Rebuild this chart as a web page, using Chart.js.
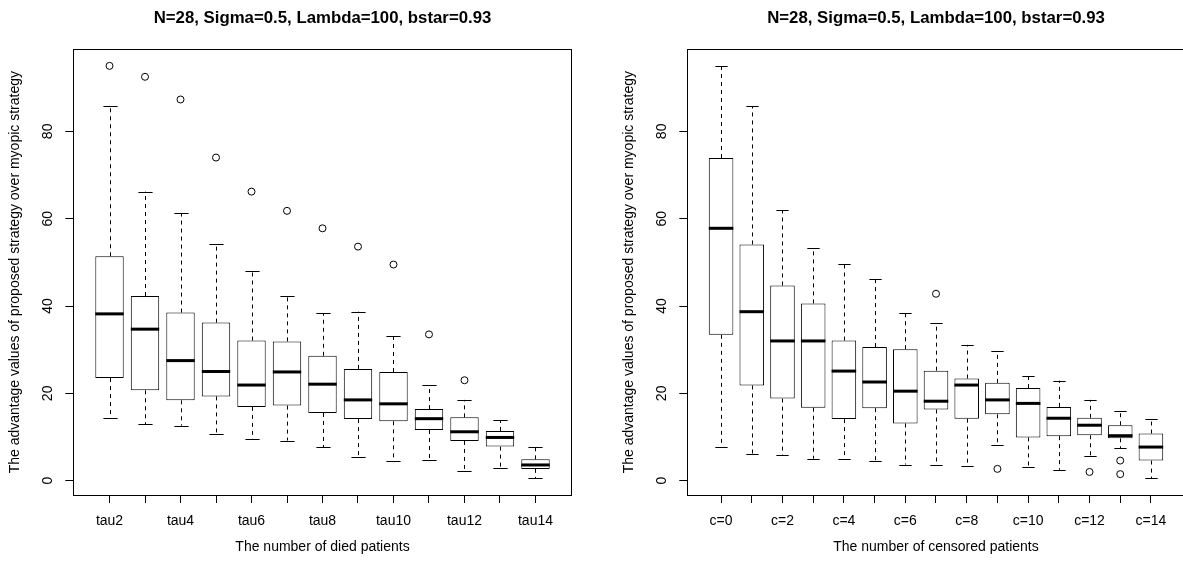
<!DOCTYPE html>
<html>
<head>
<meta charset="utf-8">
<script src="https://cdn.jsdelivr.net/npm/chart.js@4.4.1/dist/chart.umd.min.js"></script>
<style>
  body { margin: 0; background: #fff; }
  #wrap { position: relative; width: 1183px; height: 570px; overflow: hidden; background: #fff; }
  canvas { position: absolute; top: 0; }
  #leftChart { left: 0; }
  #rightChart { left: 592px; }
</style>
</head>
<body>
<div id="wrap">
  <canvas id="leftChart" width="592" height="570"></canvas>
  <canvas id="rightChart" width="600" height="570"></canvas>
</div>
<script>
// shared text
const plotTitle = 'N=28, Sigma=0.5, Lambda=100, bstar=0.93';
const yTitle = 'The advantage values of proposed strategy over myopic strategy';
const yTickValues = [0, 20, 40, 60, 80];

// left panel: died patients
const tauLabels = ['tau2', 'tau3', 'tau4', 'tau5', 'tau6', 'tau7', 'tau8', 'tau9', 'tau10', 'tau11', 'tau12', 'tau13', 'tau14'];
const tauLow  = [14.3, 12.9, 12.6, 10.8, 9.5, 9.2, 7.7, 5.4, 4.6, 4.7, 2.3, 2.8, 0.5];
const tauQ1   = [23.5, 20.7, 18.4, 19.3, 16.9, 17.2, 15.5, 14.1, 13.6, 11.6, 9.1, 7.8, 2.7];
const tauMed  = [38.2, 34.7, 27.5, 25.0, 21.9, 24.9, 22.1, 18.5, 17.6, 14.2, 11.2, 9.9, 3.6];
const tauQ3   = [51.4, 42.3, 38.5, 36.2, 32.1, 31.9, 28.6, 25.6, 24.9, 16.4, 14.5, 11.4, 4.9];
const tauHigh = [85.8, 66.2, 61.3, 54.1, 48.1, 42.4, 38.3, 38.7, 33.1, 21.8, 18.5, 13.9, 7.8];
const tauOut  = [[95.0], [92.5], [87.3], [74.0], [66.2], [61.8], [57.8], [53.6], [49.5], [33.5], [23.0], [], []];

// right panel: censored patients
const cLabels = ['c=0', 'c=1', 'c=2', 'c=3', 'c=4', 'c=5', 'c=6', 'c=7', 'c=8', 'c=9', 'c=10', 'c=11', 'c=12', 'c=13', 'c=14'];
const cLow  = [7.8, 6.2, 5.8, 5.0, 4.9, 4.6, 3.7, 3.6, 3.3, 8.2, 3.1, 2.5, 5.6, 7.4, 0.5];
const cQ1   = [33.4, 21.8, 18.8, 16.7, 14.1, 16.6, 13.1, 16.3, 14.2, 15.2, 9.9, 10.2, 10.4, 9.7, 4.6];
const cMed  = [57.8, 38.7, 32.0, 32.0, 25.1, 22.6, 20.5, 18.2, 21.9, 18.5, 17.7, 14.3, 12.7, 10.3, 7.7];
const cQ3   = [73.9, 54.1, 44.7, 40.6, 32.1, 30.6, 30.1, 25.2, 23.4, 22.4, 21.2, 16.9, 14.4, 12.7, 10.8];
const cHigh = [95.0, 85.8, 62.0, 53.2, 49.7, 46.2, 38.3, 36.0, 31.1, 29.7, 24.0, 22.9, 18.5, 16.0, 14.2];
const cOut  = [[], [], [], [], [], [], [], [42.8], [], [2.7], [], [], [2.0], [4.6, 1.5], []];

Chart.defaults.font.family = "'Liberation Sans', Arial, sans-serif";
Chart.defaults.color = '#000';

// whiskers, staples, medians, frame and rotated y labels (R boxplot look)
const boxplotParts = {
  id: 'boxplotParts',
  beforeDatasetsDraw(chart) {
    const st = chart.data.datasets[0].boxStats;
    const y = chart.scales.y;
    const boxes = chart.getDatasetMeta(0).data;
    const ctx = chart.ctx;
    ctx.save();
    ctx.strokeStyle = '#000';
    ctx.lineWidth = 1;
    st.med.forEach((m, i) => {
      const px = Math.round(boxes[i].x) + 0.5;
      const cap = boxes[i].width / 4;
      ctx.setLineDash([4, 4]);
      ctx.beginPath();
      ctx.moveTo(px, y.getPixelForValue(st.q3[i]));
      ctx.lineTo(px, y.getPixelForValue(st.hi[i]));
      ctx.moveTo(px, y.getPixelForValue(st.q1[i]));
      ctx.lineTo(px, y.getPixelForValue(st.lo[i]));
      ctx.stroke();
      ctx.setLineDash([]);
      ctx.beginPath();
      [st.hi[i], st.lo[i]].forEach(v => {
        const py = Math.round(y.getPixelForValue(v)) + 0.5;
        ctx.moveTo(px - cap, py);
        ctx.lineTo(px + cap, py);
      });
      ctx.stroke();
    });
    ctx.restore();
  },
  afterDatasetsDraw(chart) {
    const st = chart.data.datasets[0].boxStats;
    const y = chart.scales.y;
    const boxes = chart.getDatasetMeta(0).data;
    const ctx = chart.ctx;
    ctx.save();
    ctx.strokeStyle = '#000';
    ctx.lineWidth = 3;
    st.med.forEach((m, i) => {
      const py = y.getPixelForValue(m);
      ctx.beginPath();
      ctx.moveTo(boxes[i].x - boxes[i].width / 2, py);
      ctx.lineTo(boxes[i].x + boxes[i].width / 2, py);
      ctx.stroke();
    });
    ctx.restore();
  },
  afterDraw(chart) {
    const ctx = chart.ctx;
    const ca = chart.chartArea;
    const y = chart.scales.y;
    ctx.save();
    ctx.strokeStyle = '#000';
    ctx.lineWidth = 1;
    ctx.strokeRect(Math.round(ca.left) + 0.5, Math.round(ca.top) + 0.5,
      Math.round(ca.right - ca.left), Math.round(ca.bottom - ca.top));
    // R draws y tick labels parallel to the axis
    ctx.fillStyle = '#000';
    ctx.font = "14px 'Liberation Sans', Arial, sans-serif";
    ctx.textAlign = 'center';
    ctx.textBaseline = 'middle';
    y.ticks.forEach(t => {
      ctx.save();
      ctx.translate(ca.left - 25, y.getPixelForValue(t.value));
      ctx.rotate(-Math.PI / 2);
      ctx.fillText(String(t.value), 0, 0);
      ctx.restore();
    });
    ctx.restore();
  }
};

function drawPanel(canvasId, p) {
  const n = p.labels.length;
  const allVals = p.lo.concat(p.hi, p.out.flat());
  const vMin = Math.min(...allVals), vMax = Math.max(...allVals);
  const ext = (vMax - vMin) * 0.04;

  const boxData = p.q1.map((v, i) => ({ x: i + 1, y: [v, p.q3[i]] }));
  const outData = [];
  p.out.forEach((list, i) => list.forEach(v => outData.push({ x: i + 1, y: v })));

  return new Chart(document.getElementById(canvasId), {
    type: 'bar',
    data: {
      datasets: [{
        type: 'bar',
        data: boxData,
        boxStats: { lo: p.lo, q1: p.q1, med: p.med, q3: p.q3, hi: p.hi },
        backgroundColor: '#fff',
        borderColor: '#000',
        borderWidth: 1,
        borderSkipped: false,
        barPercentage: 0.8,
        categoryPercentage: 1
      }, {
        type: 'scatter',
        data: outData,
        pointStyle: 'circle',
        pointRadius: 3.5,
        pointBorderWidth: 1,
        pointBackgroundColor: 'rgba(0,0,0,0)',
        pointBorderColor: '#000'
      }]
    },
    options: {
      responsive: false,
      animation: false,
      layout: { padding: { left: 0, right: p.padRight, top: 0, bottom: 0 } },
      plugins: {
        legend: { display: false },
        tooltip: { enabled: false },
        title: {
          display: true,
          text: plotTitle,
          fullSize: false,
          font: { size: 16.8, weight: 'bold' },
          padding: { top: 8, bottom: 21.2 }
        }
      },
      scales: {
        x: {
          type: 'linear',
          offset: false,
          min: 0.5 - 0.04 * n,
          max: n + 0.5 + 0.04 * n,
          afterBuildTicks: s => { s.ticks = p.labels.map((l, i) => ({ value: i + 1 })); },
          afterFit: s => { s.height = 75; },
          grid: { display: true, drawOnChartArea: false, drawTicks: true, tickLength: 8, color: '#000', offset: false },
          border: { display: false },
          ticks: {
            autoSkip: false,
            maxRotation: 0,
            minRotation: 0,
            padding: 10,
            font: { size: 14 },
            callback: (v, i) => (i % 2 === 0 ? p.labels[i] : '')
          },
          title: { display: true, text: p.xTitle, font: { size: 14 }, padding: { top: 0, bottom: 14 } }
        },
        y: {
          type: 'linear',
          min: vMin - ext,
          max: vMax + ext,
          afterBuildTicks: s => { s.ticks = yTickValues.map(v => ({ value: v })); },
          afterFit: s => { s.width = p.yAxisWidth; },
          grid: { display: true, drawOnChartArea: false, drawTicks: true, tickLength: 8, color: '#000' },
          border: { display: false },
          ticks: { display: false },
          title: { display: true, text: yTitle, font: { size: 14 }, padding: { top: p.yTitlePad, bottom: 0 } }
        }
      }
    },
    plugins: [boxplotParts]
  });
}

drawPanel('leftChart', {
  labels: tauLabels, lo: tauLow, q1: tauQ1, med: tauMed, q3: tauQ3, hi: tauHigh, out: tauOut,
  xTitle: 'The number of died patients',
  yAxisWidth: 73.3, padRight: 20.3, yTitlePad: 6.6
});

drawPanel('rightChart', {
  labels: cLabels, lo: cLow, q1: cQ1, med: cMed, q3: cQ3, hi: cHigh, out: cOut,
  xTitle: 'The number of censored patients',
  yAxisWidth: 95.3, padRight: 7.3, yTitlePad: 28.6
});
</script>
</body>
</html>
